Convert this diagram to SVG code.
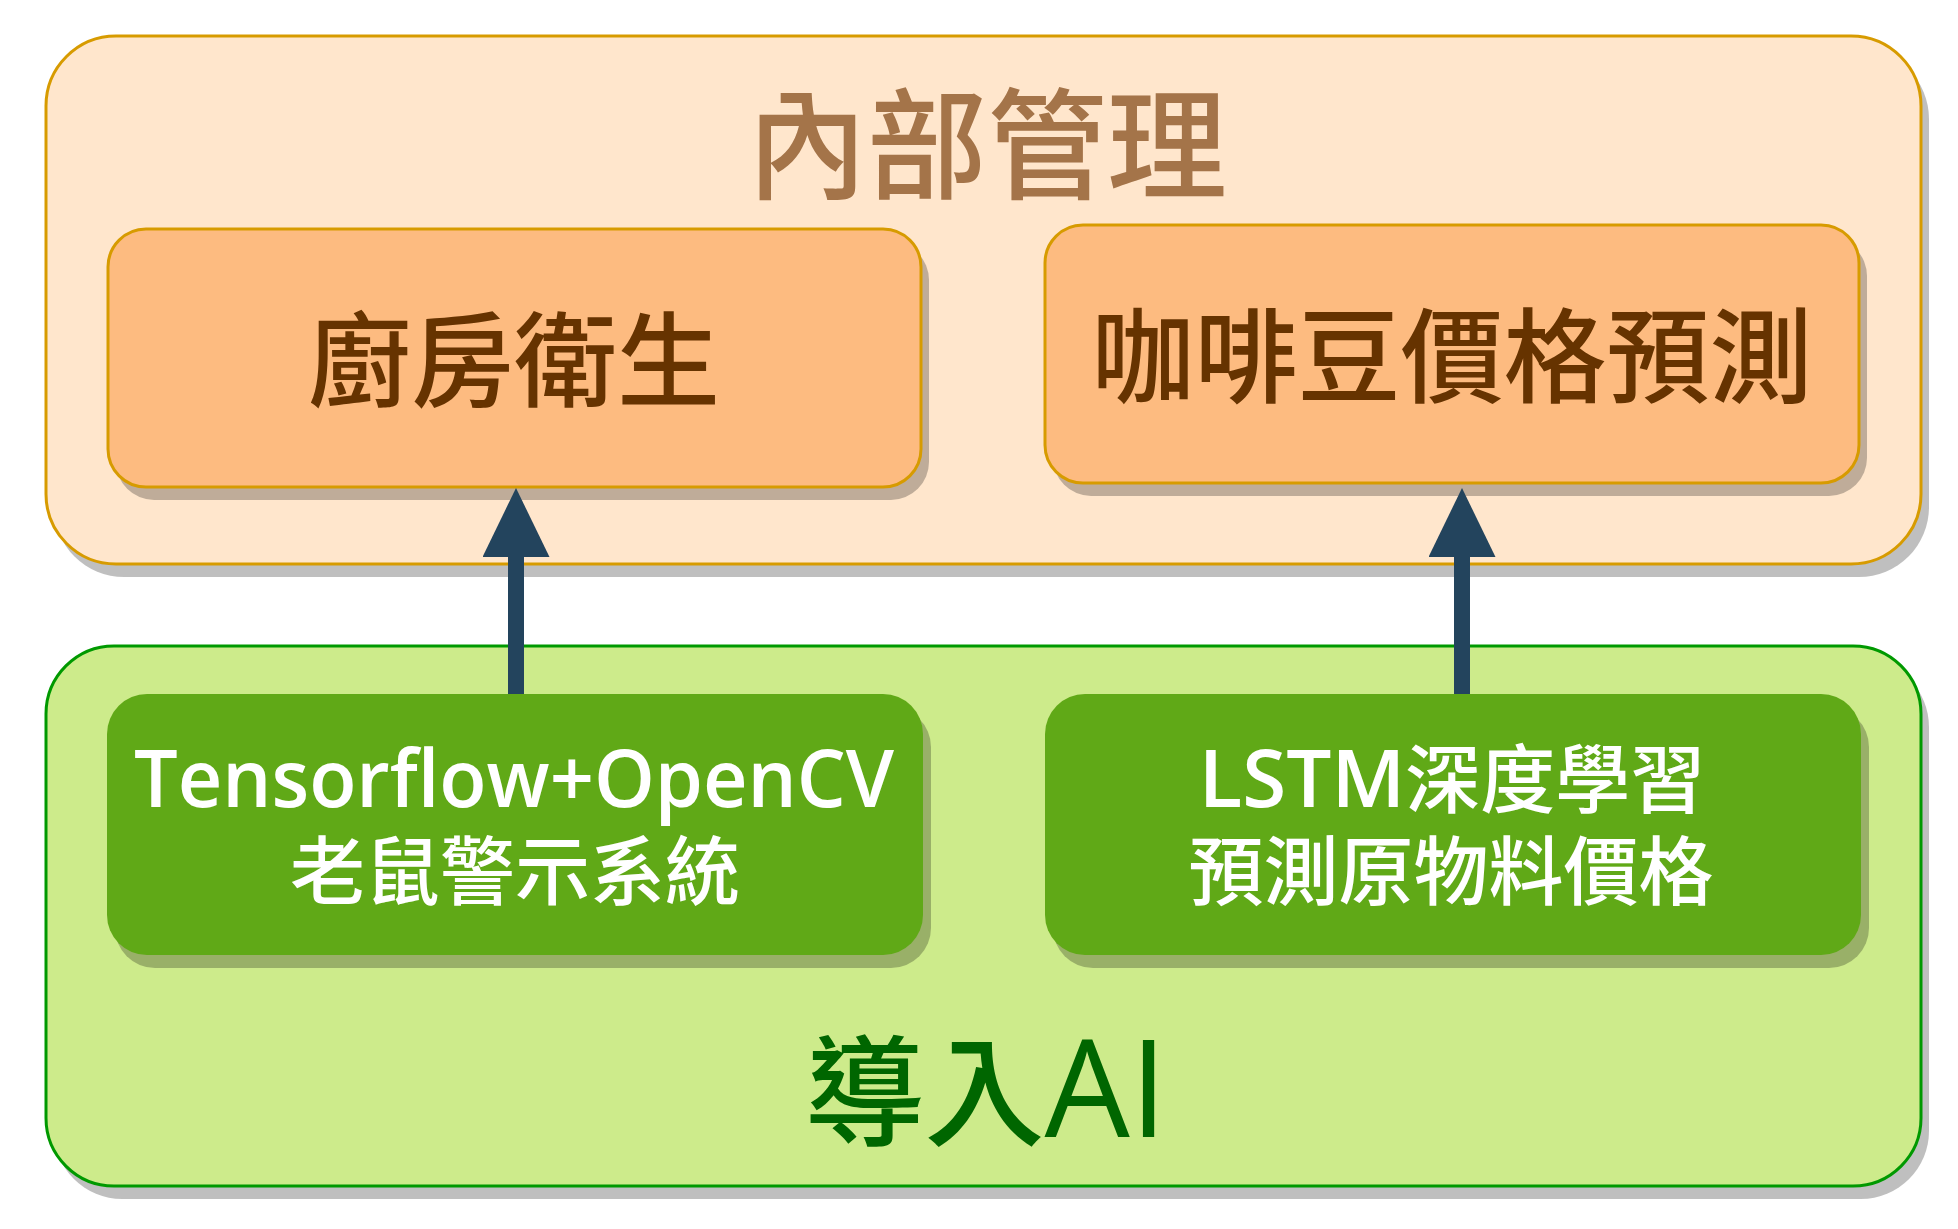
<svg xmlns="http://www.w3.org/2000/svg" width="1958" height="1229" viewBox="0 0 1958 1229">
  <defs>
    <style>
      .shadow { fill: #000000; fill-opacity: 0.25; stroke: none; }
      .outer-top { fill: #FFE6CC; stroke: #D79B00; stroke-width: 3; }
      .inner-top { fill: #FDBB80; stroke: #D79B00; stroke-width: 3; }
      .outer-bot { fill: #CDEB8B; stroke: #009900; stroke-width: 3; }
      .inner-bot { fill: #60A917; stroke: none; }
      .cjk { font-family: "Noto Sans CJK TC", "Noto Sans CJK SC", sans-serif; font-weight: 500; }
      .lat { font-family: "Open Sans", "Noto Sans", sans-serif; font-weight: 600; }
      .title-top { fill: #A47449; font-size: 120px; }
      .lbl-top { fill: #663300; font-size: 103px; }
      .lbl-bot { fill: #FFFFFF; }
      .title-bot { fill: #006600; }
      .title-bot .lat { font-weight: 400; }
      .conn { stroke: #23445D; stroke-width: 16; fill: none; }
    </style>
    <marker id="arrowhead" viewBox="0 0 69 67" markerWidth="69" markerHeight="67" refX="0" refY="33.5" orient="auto" markerUnits="userSpaceOnUse">
      <path d="M0,0 L69,33.5 L0,67 Z" fill="#23445D"/>
    </marker>
  </defs>

  <g id="group-internal">
    <rect class="shadow" x="54" y="49" width="1875" height="528" rx="70" ry="70"/>
    <rect class="outer-top" x="46" y="36" width="1875" height="528" rx="70" ry="70"/>
    <text class="cjk title-top" x="987" y="190" text-anchor="middle">內部管理</text>
  </g>

  <g id="node-kitchen">
    <rect class="shadow" x="116" y="242" width="813" height="258" rx="38" ry="38"/>
    <rect class="inner-top" x="108" y="229" width="813" height="258" rx="38" ry="38"/>
    <text class="cjk lbl-top" x="514" y="399" text-anchor="middle">廚房衛生</text>
  </g>

  <g id="node-coffee">
    <rect class="shadow" x="1053" y="238" width="814" height="258" rx="38" ry="38"/>
    <rect class="inner-top" x="1045" y="225" width="814" height="258" rx="38" ry="38"/>
    <text class="cjk lbl-top" x="1452" y="395" text-anchor="middle">咖啡豆價格預測</text>
  </g>

  <g id="group-ai">
    <rect class="shadow" x="54" y="659" width="1875" height="540" rx="68" ry="68"/>
    <rect class="outer-bot" x="46" y="646" width="1875" height="540" rx="68" ry="68"/>
    <text class="title-bot" x="986" y="1137" text-anchor="middle"><tspan class="cjk" font-size="120">導入</tspan><tspan class="lat" font-size="135">AI</tspan></text>
  </g>

  <g id="node-rat">
    <rect class="shadow" x="115" y="707" width="816" height="261" rx="40" ry="40"/>
    <rect class="inner-bot" x="107" y="694" width="816" height="261" rx="40" ry="40"/>
    <text class="lat lbl-bot" x="514" y="807" text-anchor="middle" font-size="80" textLength="760" lengthAdjust="spacingAndGlyphs">Tensorflow+OpenCV</text>
    <text class="cjk lbl-bot" x="515" y="899" text-anchor="middle" font-size="75">老鼠警示系統</text>
  </g>

  <g id="node-lstm">
    <rect class="shadow" x="1053" y="707" width="816" height="261" rx="40" ry="40"/>
    <rect class="inner-bot" x="1045" y="694" width="816" height="261" rx="40" ry="40"/>
    <text class="lbl-bot" x="1452" y="807" text-anchor="middle"><tspan class="lat" font-size="80">LSTM</tspan><tspan class="cjk" font-size="75">深度學習</tspan></text>
    <text class="cjk lbl-bot" x="1451" y="899" text-anchor="middle" font-size="75">預測原物料價格</text>
  </g>

  <g id="connectors">
    <line class="conn" x1="516" y1="694" x2="516" y2="557" marker-end="url(#arrowhead)"/>
    <line class="conn" x1="1462" y1="694" x2="1462" y2="557" marker-end="url(#arrowhead)"/>
  </g>
</svg>
